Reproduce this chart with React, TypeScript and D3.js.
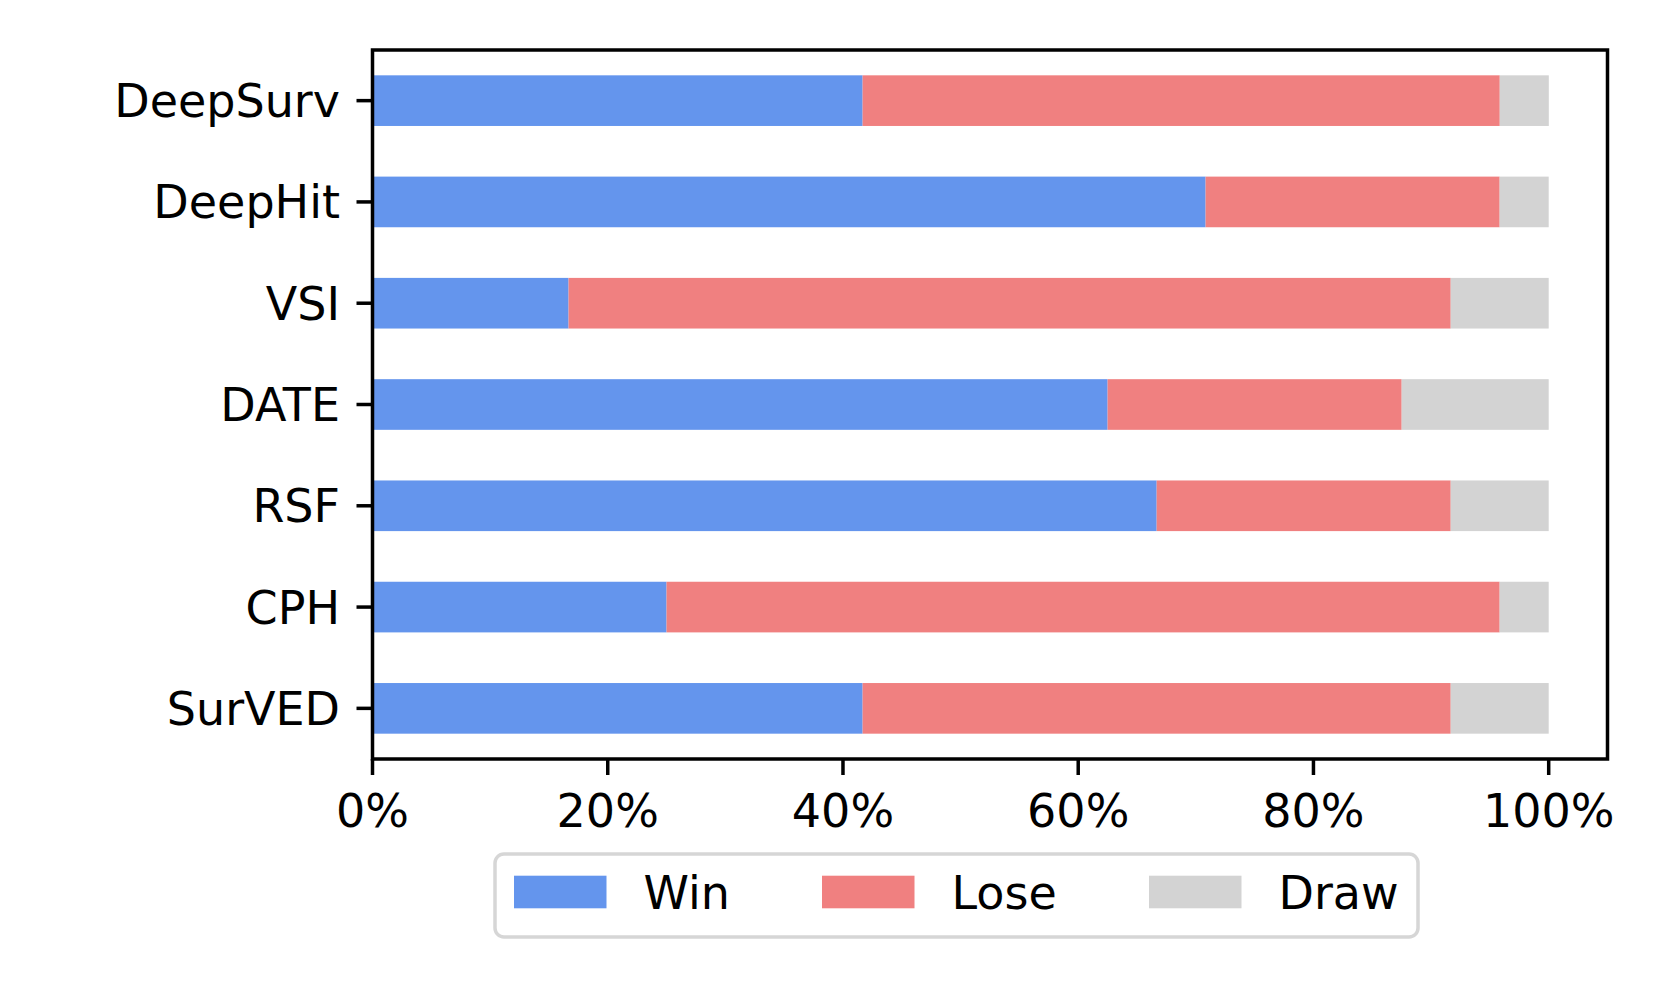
import React from "react";
import * as d3 from "d3";

const categories = ["DeepSurv", "DeepHit", "VSI", "DATE", "RSF", "CPH", "SurVED"];
const winValues = [41.67, 70.83, 16.67, 62.5, 66.67, 25.0, 41.67];
const loseValues = [54.17, 25.0, 75.0, 25.0, 25.0, 70.83, 50.0];
const drawValues = [4.17, 4.17, 8.33, 12.5, 8.33, 4.17, 8.33];
const seriesNames = ["Win", "Lose", "Draw"];
const seriesColors = ["#6495ED", "#F08080", "#D3D3D3"];
const xTicks = [0, 20, 40, 60, 80, 100];

const W = 1661;
const H = 997;
const FONT = "DejaVu Sans, sans-serif";
const FS = 46;

export default function App() {
  const left = 372.5, right = 1607.5, top = 50, bottom = 759;
  const x = d3.scaleLinear().domain([0, 105]).range([left, right]);
  const y = d3.scaleBand<string>().domain(categories).range([top, bottom]).paddingInner(0.5).paddingOuter(0.25);

  const rows = categories.map((c, i) => ({ c, Win: winValues[i], Lose: loseValues[i], Draw: drawValues[i] }));
  const stack = d3.stack<any>().keys(seriesNames)(rows);

  const legendItems = [
    { name: "Win", x0: 514 },
    { name: "Lose", x0: 822 },
    { name: "Draw", x0: 1149 },
  ];
  const patchW = 92.5;

  return (
    <svg width={W} height={H} style={{ position: "absolute", left: 0, top: 0, background: "#fff" }} fontFamily={FONT}>
      <rect x={0} y={0} width={W} height={H} fill="#fff" />
      {stack.map((s, si) => (
        <g key={s.key} fill={seriesColors[si]}>
          {s.map((d, i) => (
            <rect
              key={i}
              x={x(d[0])}
              y={y(categories[i])!}
              width={x(d[1]) - x(d[0])}
              height={y.bandwidth()}
            />
          ))}
        </g>
      ))}
      <rect x={left} y={top} width={right - left} height={bottom - top} fill="none" stroke="#000" strokeWidth={3.5} />
      {categories.map((c) => {
        const cy = y(c)! + y.bandwidth() / 2;
        return (
          <g key={c}>
            <line x1={left - 16} x2={left} y1={cy} y2={cy} stroke="#000" strokeWidth={3.5} />
            <text x={left - 32.5} y={cy + 16.5} fontSize={FS} textAnchor="end" fill="#000">{c}</text>
          </g>
        );
      })}
      {xTicks.map((t) => (
        <g key={t}>
          <line x1={x(t)} x2={x(t)} y1={bottom} y2={bottom + 16} stroke="#000" strokeWidth={3.5} />
          <text x={x(t)} y={826.5} fontSize={FS} textAnchor="middle" fill="#000">{t}%</text>
        </g>
      ))}
      <rect x={495} y={854} width={923} height={83} rx={9} ry={9} fill="#fff" stroke="#d6d6d6" strokeWidth={3.5} />
      {legendItems.map((it, i) => (
        <g key={it.name}>
          <rect x={it.x0} y={875.7} width={patchW} height={32.6} fill={seriesColors[i]} />
          <text x={it.x0 + patchW + 37} y={909} fontSize={FS} fill="#000">{it.name}</text>
        </g>
      ))}
    </svg>
  );
}
